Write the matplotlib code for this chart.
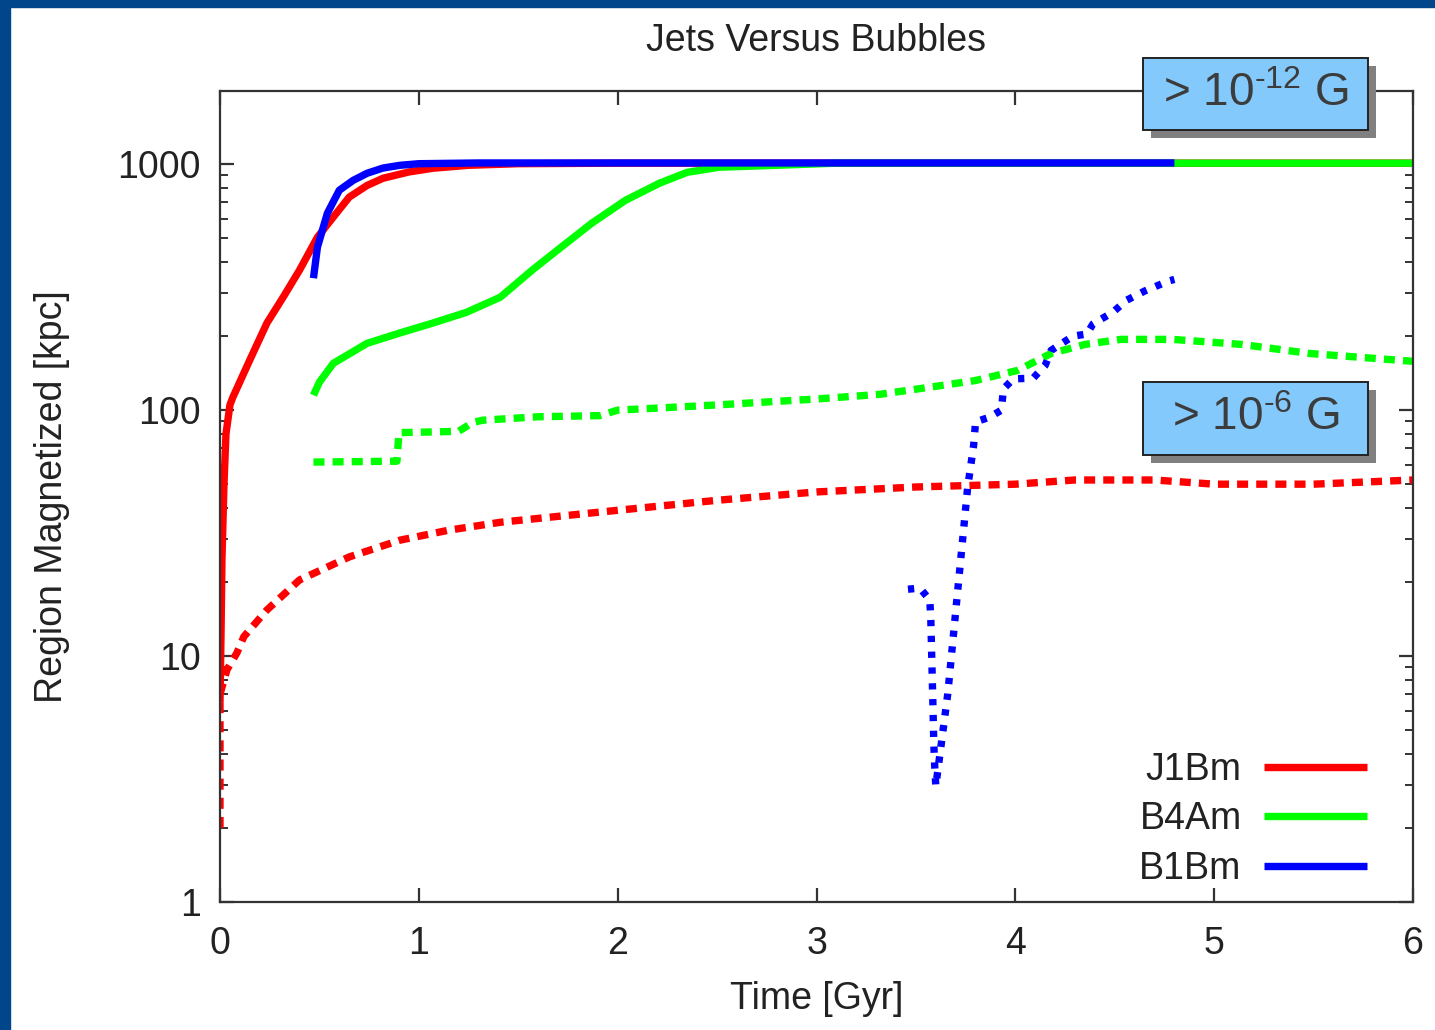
import matplotlib.pyplot as plt
from matplotlib.patches import Rectangle
from matplotlib.ticker import LogLocator, NullFormatter, FixedLocator

plt.rcParams['font.family'] = ['Liberation Sans', 'DejaVu Sans']
plt.rcParams['mathtext.fontset'] = 'custom'
plt.rcParams['mathtext.rm'] = 'Liberation Sans'

# J1Bm, region with B > 1e-12 G (solid) and B > 1e-6 G (dashed)
j1bm_t = [0.0, 0.005, 0.01, 0.02, 0.03, 0.05, 0.065, 0.15, 0.236, 0.32, 0.40,
          0.49, 0.57, 0.65, 0.74, 0.82, 0.95, 1.07, 1.25, 1.5, 2.0, 4.0, 6.0]
j1bm_lo = [6.5, 12, 25, 50, 80, 105, 113, 160, 226, 290, 371,
           505, 610, 735, 820, 877, 930, 963, 990, 1005, 1010, 1010, 1010]
j1bm_hi_t = [0.0, 0.0, 0.035, 0.085, 0.12, 0.236, 0.40, 0.65, 0.905, 1.15, 1.41,
             1.91, 2.5, 3.0, 3.5, 4.0, 4.3, 4.7, 5.0, 5.5, 6.0]
j1bm_hi = [2.0, 7.0, 8.8, 10.3, 12.0, 15.4, 20.4, 25.3, 29.6, 32.5, 35,
           38.5, 43, 46.5, 48.7, 50, 52, 52, 50, 50, 52]

# B4Am
b4am_t = [0.47, 0.50, 0.57, 0.74, 0.905, 1.07, 1.24, 1.41, 1.57, 1.71, 1.87,
          2.04, 2.21, 2.35, 2.51, 2.8, 3.1, 6.0]
b4am_lo = [115, 130, 155, 187, 206, 226, 250, 288, 371, 456, 576,
           714, 837, 927, 972, 990, 1010, 1010]
b4am_hi_t = [0.47, 0.89, 0.90, 1.2, 1.27, 1.32, 1.6, 1.91, 2.0, 2.5, 3.0, 3.32,
             3.6, 3.8, 4.01, 4.18, 4.35, 4.53, 4.79, 5.14, 5.48, 5.91, 6.0]
b4am_hi = [61.5, 62, 81, 82, 89, 91, 94, 95, 100, 105, 111, 116,
           125, 132, 145, 170, 185, 194, 194, 185, 170, 160, 158]

# B1Bm
b1bm_t = [0.47, 0.49, 0.54, 0.60, 0.67, 0.74, 0.82, 0.905, 1.0, 1.3, 4.8]
b1bm_lo = [344, 460, 632, 784, 860, 919, 965, 990, 1005, 1012, 1012]
b1bm_hi_t = [3.46, 3.52, 3.57, 3.575, 3.58, 3.585, 3.59, 3.595, 3.60, 3.66, 3.68,
             3.71, 3.74, 3.76, 3.79, 3.80, 3.87, 3.93, 3.94, 3.99, 4.09, 4.15,
             4.18, 4.29, 4.36, 4.39, 4.49, 4.56, 4.65, 4.77, 4.80]
b1bm_hi = [18.7, 18.9, 16.9, 14, 9.6, 6.6, 4.4, 3.5, 2.96, 7.0, 10.3,
           18.4, 32.8, 48.4, 71.6, 89.6, 93.6, 100, 122, 134, 135, 152,
           175, 200, 204, 224, 250, 280, 305, 335, 340]

red, green, blue = '#ff0000', '#00ff00', '#0000ff'
lw = 5.3
fs = 27

fig = plt.figure(figsize=(14.35, 10.3), dpi=100)
ax = fig.add_axes([220/1435, 1 - 902/1030, 1193/1435, 811/1030])

ax.plot(j1bm_t, j1bm_lo, color=red, lw=lw, label='J1Bm', solid_capstyle='butt')
ax.plot(j1bm_hi_t, j1bm_hi, color=red, lw=lw, dashes=(1.5, 1.1))
ax.plot(b4am_t, b4am_lo, color=green, lw=lw, label='B4Am', solid_capstyle='butt')
ax.plot(b4am_hi_t, b4am_hi, color=green, lw=lw, dashes=(1.5, 1.1))
ax.plot(b1bm_t, b1bm_lo, color=blue, lw=lw, label='B1Bm', solid_capstyle='butt')
ax.plot(b1bm_hi_t, b1bm_hi, color=blue, lw=lw, dashes=(0.85, 1.3))

ax.set_yscale('log')
ax.set_xlim(0, 6)
ax.set_ylim(1, 1985)
ax.xaxis.set_major_locator(FixedLocator([0, 1, 2, 3, 4, 5, 6]))
ax.yaxis.set_major_locator(FixedLocator([1, 10, 100, 1000]))
ax.yaxis.set_minor_locator(LogLocator(base=10, subs=range(2, 10)))
ax.yaxis.set_minor_formatter(NullFormatter())
ax.set_yticklabels(['1', '10', '100', '1000'])

for s in ax.spines.values():
    s.set_linewidth(1.6)
    s.set_color('#333333')
ax.tick_params(which='both', direction='in', top=True, right=True,
               color='#333333', labelcolor='#222222', labelsize=fs)
ax.tick_params(which='major', length=10, width=1.6)
ax.tick_params(which='minor', length=6, width=1.4)
ax.tick_params(axis='x', pad=17)
ax.tick_params(axis='y', pad=14)

ax.set_title('Jets Versus Bubbles', fontsize=fs, color='#222222', pad=29)
ax.set_xlabel('Time [Gyr]', fontsize=fs, color='#222222', labelpad=14)
ax.set_ylabel('Region Magnetized [kpc]', fontsize=fs, color='#222222', labelpad=34)

leg = ax.legend(loc='lower right', frameon=False, markerfirst=False, fontsize=fs,
                handlelength=2.75, handletextpad=0.6, labelspacing=0.36,
                bbox_to_anchor=(0.99, -0.023))
for t in leg.get_texts():
    t.set_color('#222222')

# dark blue slide border
fig.add_artist(Rectangle((0, 0), 10/1435, 1, transform=fig.transFigure,
                         color='#01468a', zorder=5))
fig.add_artist(Rectangle((0, 1 - 7/1030), 1, 7/1030, transform=fig.transFigure,
                         color='#01468a', zorder=5))


def label_box(x0, y0, x1, y1, text):
    w, h = (x1 - x0) / 1435, (y1 - y0) / 1030
    fx, fy = x0 / 1435, 1 - y1 / 1030
    fig.add_artist(Rectangle((fx + 8/1435, fy - 8/1030), w, h, transform=fig.transFigure,
                             facecolor='#808080', edgecolor='none', zorder=6))
    fig.add_artist(Rectangle((fx, fy), w, h, transform=fig.transFigure,
                             facecolor='#83c9fb', edgecolor='#222222', lw=1.4, zorder=7))
    fig.text(fx + w / 2, fy + h / 2, text, ha='center', va='center',
             fontsize=33, color='#3c3c3c', zorder=8)


label_box(1143, 58, 1368, 130, r'> 10$^{\text{-12}}$ G')
label_box(1143, 382, 1368, 455, r'> 10$^{\text{-6}}$ G')

fig.savefig('out.png', dpi=100)
